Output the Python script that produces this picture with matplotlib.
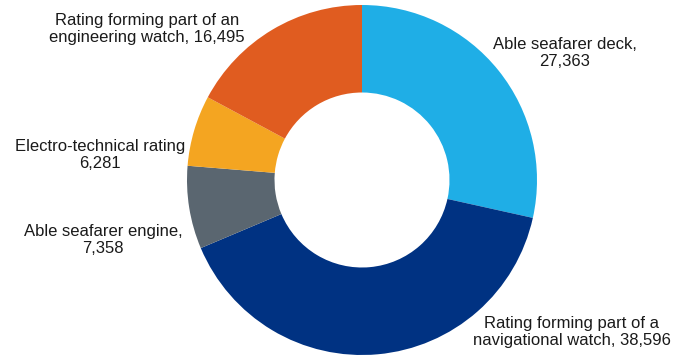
import matplotlib
matplotlib.use("Agg")
import matplotlib.pyplot as plt

categories = [
    "Able seafarer deck",
    "Rating forming part of a navigational watch",
    "Able seafarer engine",
    "Electro-technical rating",
    "Rating forming part of an engineering watch",
]
values = [27363, 38596, 7358, 6281, 16495]
label_texts = [
    "Able seafarer deck,\n27,363",
    "Rating forming part of a\nnavigational watch, 38,596",
    "Able seafarer engine,\n7,358",
    "Electro-technical rating\n6,281",
    "Rating forming part of an\nengineering watch, 16,495",
]
colors = ["#1FAEE6", "#003282", "#5A6670", "#F4A521", "#E05C20"]
# label centres in figure pixels (x from left, y from top)
label_px = [(565, 53), (572, 332), (103, 240), (100, 155), (147, 29)]

W, H = 673, 356
cx, cy, R = 362, 180, 175

plt.rcParams["font.family"] = ["Liberation Sans", "DejaVu Sans"]
fig = plt.figure(figsize=(W / 100, H / 100), dpi=100)
ax = fig.add_axes([0, 0, 1, 1])
ax.pie(values, colors=colors, startangle=90, counterclock=False,
       radius=1, wedgeprops=dict(width=0.5, edgecolor="none"))
ax.set_xlim(-cx / R, (W - cx) / R)
ax.set_ylim(-(H - cy) / R, cy / R)
ax.set_aspect("auto")
ax.axis("off")

for txt, (px, py) in zip(label_texts, label_px):
    ax.text((px - cx) / R, (cy - py) / R, txt, ha="center", va="center",
            fontsize=12, color="#1a1a1a", linespacing=1.12)

fig.savefig("out.png", dpi=100)
